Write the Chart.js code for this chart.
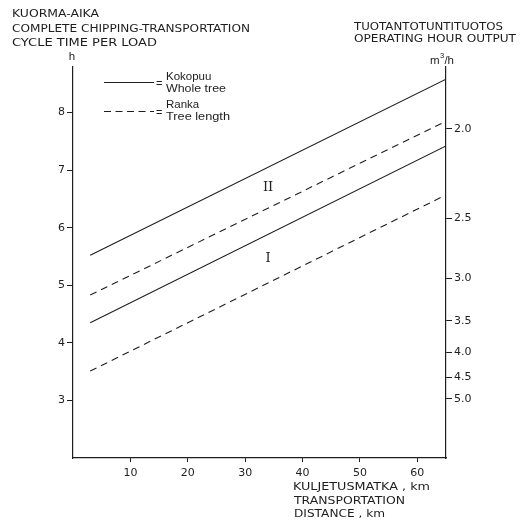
<!DOCTYPE html>
<html><head><meta charset="utf-8">
<script src="https://cdn.jsdelivr.net/npm/chart.js@4.4.1/dist/chart.umd.min.js"></script>
<style>html,body{margin:0;padding:0;background:#fff}#wrap{width:525px;height:523px;position:relative}</style>
</head><body><div id="wrap"><canvas id="c" width="525" height="523"></canvas></div>
<script>
// Transportation distance (km) at the ends of each straight line
const distanceKm = [3, 65];
// Cycle time per load (h)
const wholeTreeII = [5.52, 8.58];
const treeLengthII = [4.83, 7.85];
const wholeTreeI = [4.35, 7.42];
const treeLengthI = [3.51, 6.57];
// Axis ticks
const xTicks = [10, 20, 30, 40, 50, 60];
const leftTicks = [3, 4, 5, 6, 7, 8];
const rightTickLabels = ['2.0', '2.5', '3.0', '3.5', '4.0', '4.5', '5.0'];
const rightTickHours = [7.72, 6.16, 5.12, 4.38, 3.84, 3.40, 3.03];

const INK = '#1e1e1e';
const FONT = '"DejaVu Sans", sans-serif';
const FONT2 = '"Liberation Sans", Arial, sans-serif';

function pts(ys) { return distanceKm.map((x, i) => ({x: x, y: ys[i]})); }
function ds(label, ys, dashed) {
  return {label, data: pts(ys), borderColor: INK, borderWidth: 1.1, borderDash: dashed ? [7, 5] : [],
    pointRadius: 0, fill: false, tension: 0, yAxisID: 'y'};
}

function txt(ctx, s, x, y, w, size, align, fam) {
  ctx.save();
  ctx.font = (size || 11) + 'px ' + (fam || FONT);
  ctx.textBaseline = 'alphabetic';
  ctx.textAlign = 'left';
  const m = ctx.measureText(s).width;
  const sx = w ? w / m : 1;
  let x0 = x;
  if (align === 'center') x0 = x - m * sx / 2;
  ctx.translate(x0, y);
  ctx.scale(sx, 1);
  ctx.fillText(s, 0, 0);
  ctx.restore();
}

const decor = {
  id: 'decor',
  afterDraw(chart) {
    const ctx = chart.ctx;
    ctx.save();
    ctx.fillStyle = INK;
    ctx.strokeStyle = INK;
    // Left titles
    txt(ctx, 'KUORMA-AIKA', 12, 16.7, 87);
    txt(ctx, 'COMPLETE CHIPPING-TRANSPORTATION', 12, 32.3, 238);
    txt(ctx, 'CYCLE TIME PER LOAD', 12, 46, 145);
    txt(ctx, 'h', 72, 60, null, 11.5, 'center', FONT2);
    // Right titles
    txt(ctx, 'TUOTANTOTUNTITUOTOS', 354, 30, 149);
    txt(ctx, 'OPERATING HOUR OUTPUT', 354, 42.3, 162);
    ctx.font = '11.5px ' + FONT2;
    const mw = ctx.measureText('m').width;
    txt(ctx, 'm', 430, 63.5, null, 11.5, null, FONT2);
    txt(ctx, '3', 430 + mw + 0.5, 58, null, 7.5, null, FONT2);
    txt(ctx, '/h', 430 + mw + 4.8, 63.5, null, 11.5, null, FONT2);
    // Legend
    ctx.lineWidth = 1.1;
    ctx.beginPath(); ctx.moveTo(104, 82.5); ctx.lineTo(154, 82.5); ctx.stroke();
    ctx.setLineDash([7, 4.5]);
    ctx.beginPath(); ctx.moveTo(104, 111.5); ctx.lineTo(154, 111.5); ctx.stroke();
    ctx.setLineDash([]);
    txt(ctx, '=', 156, 87, null, 11, null, FONT2);
    txt(ctx, '=', 156, 116, null, 11, null, FONT2);
    txt(ctx, 'Kokopuu', 166, 79.5, null, 11.5, null, FONT2);
    txt(ctx, 'Whole tree', 166, 92, 60, 11.5, null, FONT2);
    txt(ctx, 'Ranka', 166, 107.5, null, 11.5, null, FONT2);
    txt(ctx, 'Tree length', 166, 120, 64, 11.5, null, FONT2);
    // X axis title
    txt(ctx, 'KULJETUSMATKA , km', 293, 490, 137);
    txt(ctx, 'TRANSPORTATION', 294, 503.5, 111);
    txt(ctx, 'DISTANCE , km', 294, 517, 91);
    // Roman numeral labels
    const xs = chart.scales.x, ys = chart.scales.y;
    ctx.font = '13px "DejaVu Serif", "Liberation Serif", serif';
    ctx.textAlign = 'center'; ctx.textBaseline = 'middle';
    ctx.fillText('II', xs.getPixelForValue(34), ys.getPixelForValue(6.70));
    ctx.fillText('I', xs.getPixelForValue(34), ys.getPixelForValue(5.47));
    ctx.restore();
  }
};

const tickFont = {family: FONT, size: 11};
new Chart(document.getElementById('c'), {
  type: 'line',
  data: {datasets: [
    ds('Kokopuu II', wholeTreeII, false),
    ds('Ranka II', treeLengthII, true),
    ds('Kokopuu I', wholeTreeI, false),
    ds('Ranka I', treeLengthI, true)
  ]},
  options: {
    responsive: false, animation: false, devicePixelRatio: 1,
    layout: {padding: {top: 66.5, left: 0, right: 0, bottom: 0}},
    plugins: {legend: {display: false}, tooltip: {enabled: false}},
    scales: {
      x: {type: 'linear', min: 0, max: 65, position: 'bottom',
        afterBuildTicks: s => { s.ticks = xTicks.map(v => ({value: v})); },
        afterFit: s => { s.height = 65; },
        grid: {drawOnChartArea: false, drawTicks: true, tickLength: 4, color: INK, lineWidth: 1},
        border: {display: true, color: INK, width: 1.2},
        ticks: {color: INK, font: tickFont, padding: 5, autoSkip: false, maxRotation: 0}},
      y: {type: 'linear', min: 2, max: 8.8, position: 'left',
        afterBuildTicks: s => { s.ticks = leftTicks.map(v => ({value: v})); },
        afterFit: s => { s.width = 73; },
        grid: {drawOnChartArea: false, drawTicks: true, tickLength: 6, color: INK, lineWidth: 1},
        border: {display: true, color: INK, width: 1.2},
        ticks: {color: INK, font: tickFont, padding: 2, autoSkip: false}},
      y2: {type: 'linear', min: 2, max: 8.8, position: 'right',
        afterBuildTicks: s => { s.ticks = rightTickHours.map(v => ({value: v})); },
        afterFit: s => { s.width = 79; },
        grid: {drawOnChartArea: false, drawTicks: true, tickLength: 6, color: INK, lineWidth: 1},
        border: {display: true, color: INK, width: 1.2},
        ticks: {color: INK, font: tickFont, padding: 2, autoSkip: false,
          callback: (v, i) => rightTickLabels[i]}}
    }
  },
  plugins: [decor]
});
</script></body></html>
